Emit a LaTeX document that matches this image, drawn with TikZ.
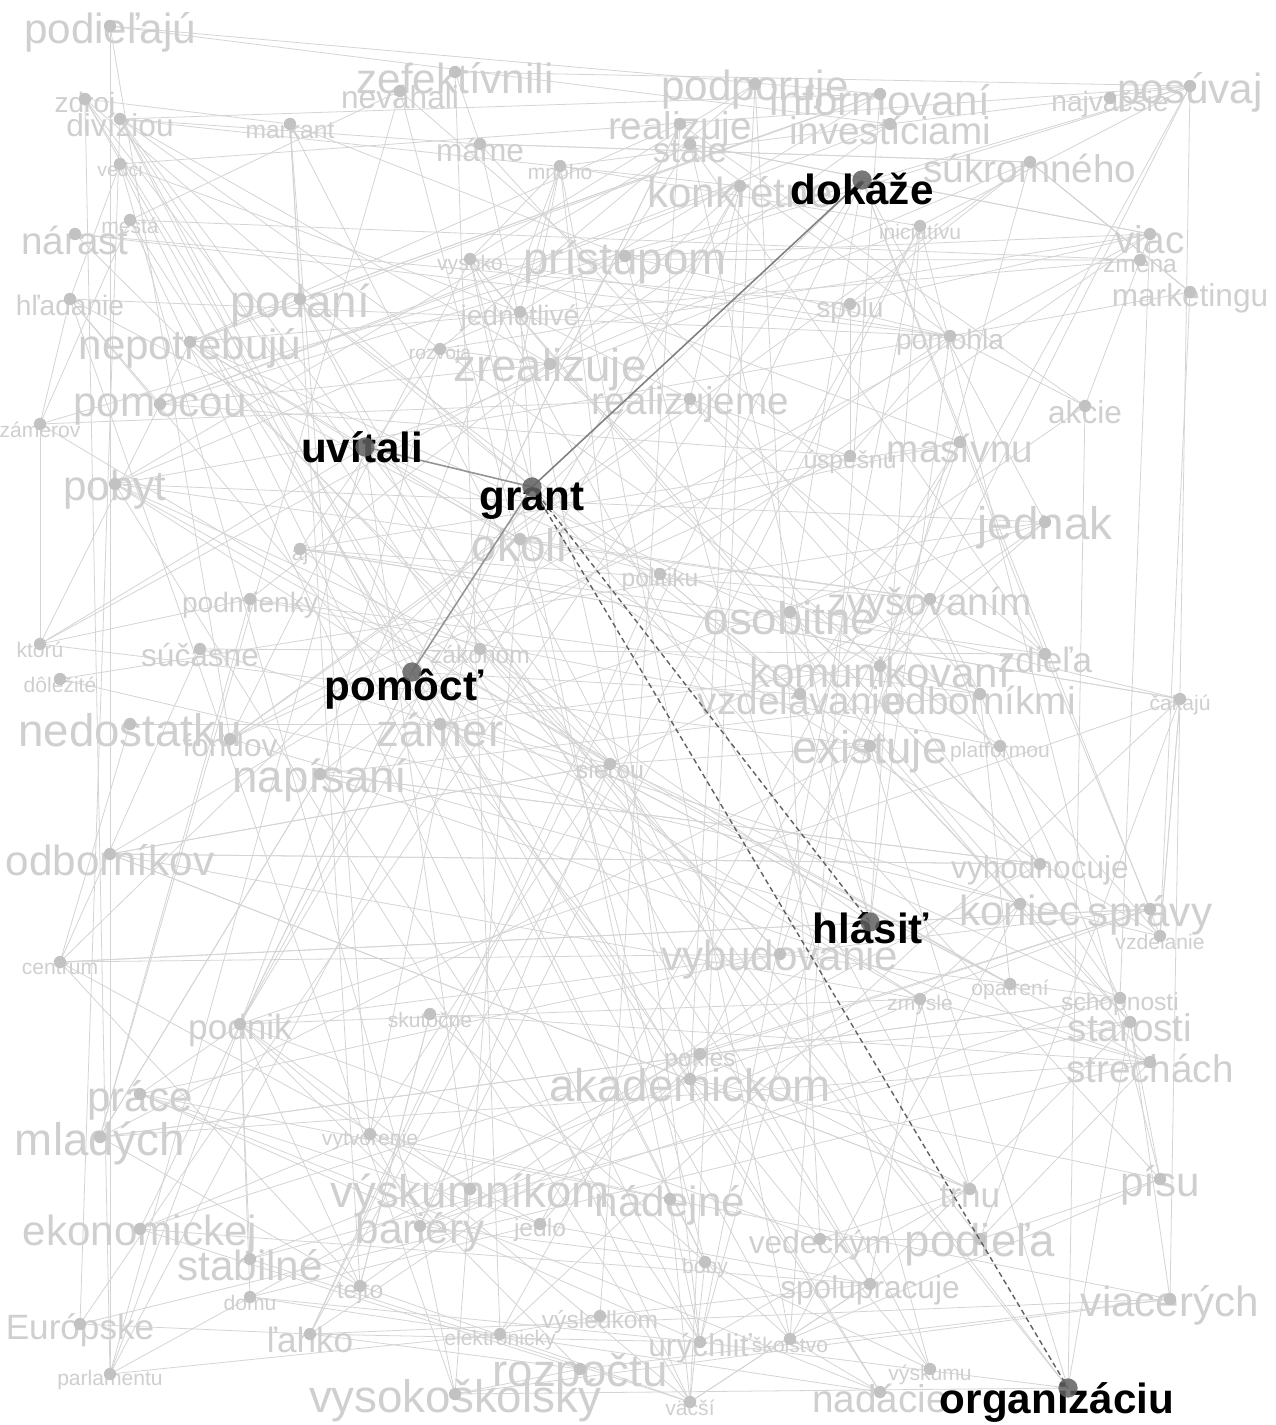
\documentclass[tikz,border=0pt]{standalone}
\usepackage{fontspec}
\setmainfont{Liberation Sans}
\begin{document}
\def\bglist{110/32/24/podieľajú, 85/105/16/zdroj, 120/125/18/divíziou, 455/78/24/zefektívnili, 400/97/18/neváhali, 290/130/14/markant, 120/170/11/vedci, 480/150/18/máme, 560/172/12/mnoho, 755/90/24/podporuje, 880/100/24/informovaní, 680/130/22/realizuje, 890/130/22/investíciami, 690/150/20/stále, 1030/168/22/súkromného, 740/192/24/konkrétne, 1190/92/24/posúvaj, 1110/104/16/najväčšie, 75/240/22/nárast, 130/226/12/mestá, 470/265/12/vysoko, 625/262/26/prístupom, 920/232/12/iniciatívu, 1150/240/22/viac, 1140/266/14/zmena, 1190/298/18/marketingu, 70/305/16/hľadanie, 300/305/26/podaní, 520/318/16/jednotlivé, 850/310/16/spolu, 190/348/24/nepotrebujú, 440/355/11/rozvoja, 950/342/16/pomohla, 550/370/26/zrealizuje, 160/410/24/pomocou, 690/405/22/realizujeme, 1085/412/18/akcie, 40/430/12/zámerov, 960/448/22/masívnu, 850/462/14/úspešnú, 115/490/24/pobyt, 1045/528/26/jednak, 520/545/26/okolí, 300/555/12/aj, 660/580/14/politiku, 250/605/16/podmienky, 790/618/26/osobitne, 930/605/22/zvyšovaním, 200/655/18/súčasne, 40/650/12/ktorú, 480/655/14/zákonom, 880/672/24/komunikovaní, 1045/660/20/zdieľa, 800/700/22/vzdelávanie, 980/700/22/odborníkmi, 60/685/12/dôležité, 130/730/26/nedostatku, 230/745/18/fondov, 440/730/26/zámer, 1180/705/12/čakajú, 870/752/26/existuje, 1000/752/12/platformou, 320/780/26/napísaní, 610/770/14/sieťou, 110/860/24/odborníkov, 1040/870/18/vyhodnocuje, 1020/910/24/koniec, 1150/915/24/správy, 1160/942/12/vzdelanie, 780/960/24/vybudovanie, 60/968/12/centrum, 1010/990/12/opatrení, 920/1005/12/zmysle, 1120/1004/14/schopnosti, 1130/1028/22/starosti, 240/1030/20/podnik, 430/1020/12/skutočne, 1150/1068/22/strechách, 700/1060/14/pokles, 690/1085/26/akademickom, 140/1100/24/práce, 100/1143/26/mladých, 370/1140/12/vytvorenie, 1160/1185/24/písu, 470/1195/26/výskumníkom, 670/1205/24/nádejné, 970/1195/20/trhu, 140/1235/24/ekonomickej, 420/1232/24/bariéry, 540/1230/14/jedlo, 820/1245/18/vedeckým, 980/1245/26/podieľa, 250/1265/24/stabilné, 705/1268/12/boby, 870/1290/18/spolupracuje, 360/1292/14/tejto, 1170/1305/24/viacerých, 250/1303/12/domu, 600/1322/14/výsledkom, 80/1330/20/Európske, 310/1340/20/ľahko, 500/1340/12/elektronicky, 700/1348/18/urýchliť, 790/1345/12/školstvo, 110/1380/12/parlamentu, 580/1375/26/rozpočtu, 455/1400/26/vysokoškolský, 690/1408/12/väčší, 880/1398/22/nadácie, 930/1375/12/výskumu}
\begin{tikzpicture}[x=0.02cm,y=-0.02cm,
  bgedge/.style={draw=black!17,line width=0.45pt},
  bgword/.style={text=black!19,inner sep=0pt,anchor=center},
  bgdot/.style={fill=black!24},
  keyword/.style={text=black,font=\bfseries\fontsize{24}{24}\selectfont,inner sep=0pt,anchor=base},
  keydot/.style={fill=black!62,opacity=0.85},
  keyedge/.style={draw=black!50,line width=0.9pt},
  keydash/.style={draw=black!62,line width=0.8pt,dash pattern=on 3pt off 2pt}]
\useasboundingbox (0,0) rectangle (1275,1425);
\fill[white] (0,0) rectangle (1275,1425);
% background coordinates
\foreach \x/\y/\s/\t [count=\i] in \bglist { \coordinate (b\i) at (\x,\y-6); }
% key coordinates
\coordinate (dokaze) at (862,180);
\coordinate (uvitali) at (365,447);
\coordinate (grant) at (532,487);
\coordinate (pomoct) at (412,672);
\coordinate (hlasit) at (870,922);
\coordinate (organizaciu) at (1068,1388);
% background edges
\pgfmathsetseed{2024}
\foreach \k in {1,...,240}{
  \pgfmathtruncatemacro\pa{random(1,110)}
  \pgfmathtruncatemacro\pb{mod(\pa-1+random(1,22),110)+1}
  \draw[bgedge] (b\pa) -- (b\pb);
}
\foreach \k in {1,...,90}{
  \pgfmathtruncatemacro\pa{random(1,110)}
  \pgfmathtruncatemacro\pb{random(1,110)}
  \draw[bgedge] (b\pa) -- (b\pb);
}
\foreach \m in {dokaze,uvitali,grant,pomoct,hlasit,organizaciu}{
  \foreach \k in {1,...,7}{
    \pgfmathtruncatemacro\pa{random(1,110)}
    \draw[bgedge] (\m) -- (b\pa);
  }
}
\draw[bgedge] (b17) -- (b97);
\draw[bgedge] (b65) -- (b66);
\draw[bgedge] (b10) -- (b91);
\draw[bgedge] (b49) -- (b53);
\draw[bgedge] (b4) -- (b17);
% background words and dots
\foreach \x/\y/\s/\t [count=\i] in \bglist {
  \node[bgword,font=\fontsize{\s}{\s}\selectfont] (w\i) at (\x,\y) {\t};
  \fill[bgdot] (b\i) circle[radius=3.5pt];
}
% key edges
\draw[keyedge] (grant) -- (dokaze);
\draw[keyedge,draw=black!42] (grant) -- (uvitali);
\draw[keyedge,draw=black!42] (grant) -- (pomoct);
\draw[keydash] (grant) -- (hlasit);
\draw[keydash] (grant) -- (organizaciu);
% key labels
\node[keyword] (dokazeL) at (862,205) {dokáže};
\node[keyword] (uvitaliL) at (362,462) {uvítali};
\node[keyword] (grantL) at (532,510) {grant};
\node[keyword] (pomoctL) at (404,700) {pomôcť};
\node[keyword] (hlasitL) at (871,943) {hlásiť};
\node[keyword] (organizaciuL) at (1057,1413) {organizáciu};
% key dots
\foreach \m in {dokaze,uvitali,grant,pomoct,hlasit,organizaciu}{
  \fill[keydot] (\m) circle[radius=5.5pt];
}
\end{tikzpicture}
\end{document}
